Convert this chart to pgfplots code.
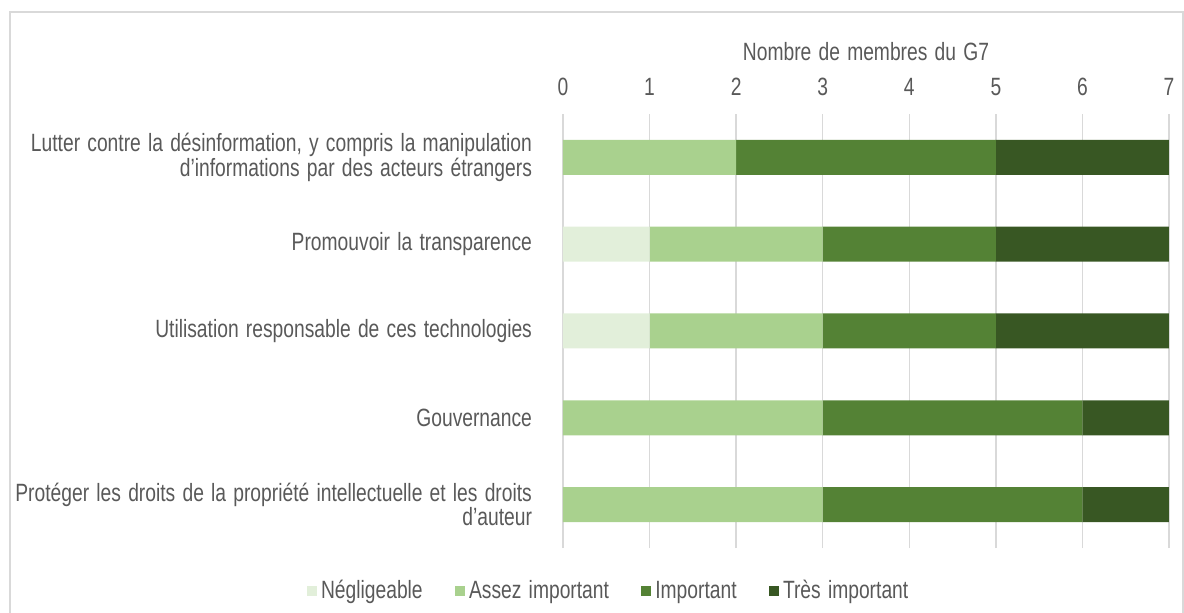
\documentclass[border=0pt]{standalone}
\usepackage{fontspec}
\setmainfont{Liberation Sans}[FakeStretch=0.77, WordSpace=1.35]
\usepackage{pgfplots}
\pgfplotsset{compat=1.18}
\definecolor{txt}{HTML}{595959}
\definecolor{gridc}{HTML}{D9D9D9}
\definecolor{c1}{HTML}{E2EFDA}
\definecolor{c2}{HTML}{A9D18E}
\definecolor{c3}{HTML}{548235}
\definecolor{c4}{HTML}{385723}
\newcommand{\fnt}{\fontsize{12.5bp}{11.7bp}\selectfont}
\begin{document}
\begin{tikzpicture}
\useasboundingbox (-281.5bp,-32.5bp) rectangle (310.5bp,274bp);
\draw[gridc, line width=0.75bp] (-276.5bp,-40bp) -- (-276.5bp,268bp) -- (310bp,268bp) -- (310bp,-40bp);
\begin{axis}[
  at={(0,0)}, anchor=south west,
  scale only axis, width=303bp, height=217bp,
  xmin=0, xmax=7, ymin=-0.5, ymax=4.5,
  xbar stacked, bar width=17.5bp,
  xtick={0,...,7}, ytick={0,...,4},
  yticklabels={{Protéger les droits de la propriété intellectuelle et les droits\\d’auteur},
               {Gouvernance},
               {Utilisation responsable de ces technologies},
               {Promouvoir la transparence},
               {Lutter contre la désinformation,  y compris la manipulation\\d’informations par des acteurs étrangers}},
  xticklabel pos=right,
  /pgf/number format/assume math mode=true,
  tick label style={font=\fnt, text=txt},
  xticklabel style={anchor=center, yshift=13.5bp},
  yticklabel style={align=right, anchor=east, xshift=-12bp},
  xlabel={Nombre de membres du G7},
  xlabel style={font=\fnt, text=txt, at={(rel axis cs:0.5,1)}, anchor=center, yshift=31bp},
  axis line style={draw=none},
  tick style={draw=none},
  xmajorgrids,
  major grid style={gridc, line width=0.75bp},
  legend style={at={(rel axis cs:0.0767,-0.099)}, anchor=center, draw=none, fill=none,
    font=\fnt, text=txt, legend columns=4,
    /tikz/every even column/.append style={column sep=14bp},
    /tikz/every odd column/.append style={column sep=0bp}},
  legend image code/.code={\fill[#1] (0bp,-2.6bp) rectangle (5.2bp,2.6bp);},
]
\addplot[fill=c1, draw=none] coordinates {(0,4) (1,3) (1,2) (0,1) (0,0)};
\addplot[fill=c2, draw=none] coordinates {(2,4) (2,3) (2,2) (3,1) (3,0)};
\addplot[fill=c3, draw=none] coordinates {(3,4) (2,3) (2,2) (3,1) (3,0)};
\addplot[fill=c4, draw=none] coordinates {(2,4) (2,3) (2,2) (1,1) (1,0)};
\legend{Négligeable, Assez important, Important, Très important}
\end{axis}
\end{tikzpicture}
\end{document}
